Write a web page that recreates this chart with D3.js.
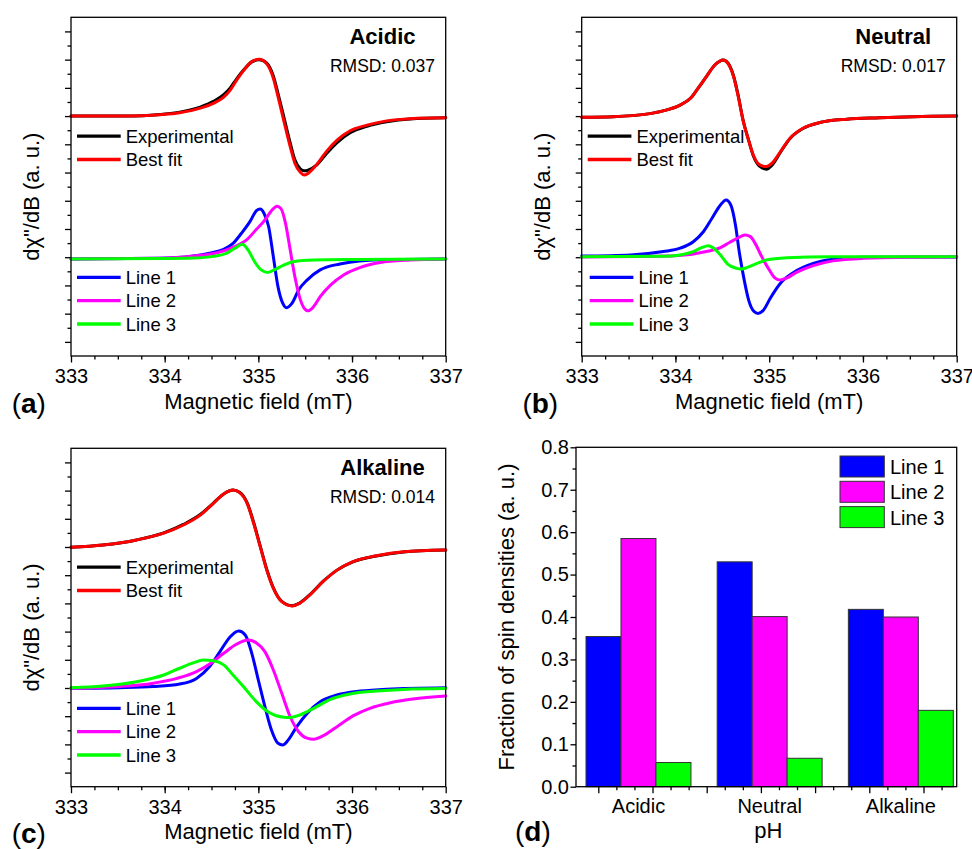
<!DOCTYPE html>
<html>
<head>
<meta charset="utf-8">
<script src="https://cdn.jsdelivr.net/npm/d3@7"></script>
<style>
  body { margin: 0; background: #fff; }
  svg text { font-family: "Liberation Sans", Arial, sans-serif; fill: #000; }
</style>
</head>
<body>
<svg id="fig" width="972" height="849"></svg>
<script>
// ---- data ----
var fieldTicks = [333, 334, 335, 336, 337];

// (a) acidic : [field mT, dchi/dB a.u.]
var acidicExp = [[333.0,0.0],[333.59,0.0],[333.95,0.06],[334.16,0.14],[334.38,0.32],[334.52,0.52],[334.63,0.76],[334.70,1.0],[334.77,1.33],[334.84,1.62],[334.93,1.92],[335.01,2.0],[335.09,1.88],[335.16,1.42],[335.21,0.80],[335.27,0.0],[335.34,-0.95],[335.39,-1.55],[335.45,-1.88],[335.49,-1.94],[335.53,-1.92],[335.62,-1.74],[335.73,-1.32],[335.84,-0.94],[335.98,-0.59],[336.16,-0.36],[336.37,-0.2],[336.62,-0.1],[337.0,-0.06]];
var acidicFit = [[333.0,0.0],[333.59,0.0],[333.95,0.05],[334.16,0.12],[334.38,0.28],[334.52,0.45],[334.63,0.67],[334.70,0.92],[334.77,1.28],[334.84,1.6],[334.93,1.93],[335.01,2.01],[335.09,1.85],[335.16,1.34],[335.21,0.69],[335.27,-0.14],[335.34,-1.08],[335.39,-1.67],[335.45,-2.0],[335.49,-2.09],[335.53,-2.03],[335.62,-1.73],[335.73,-1.24],[335.84,-0.85],[335.98,-0.52],[336.16,-0.32],[336.37,-0.17],[336.62,-0.09],[337.0,-0.06]];
var acidicLine1 = [[333.0,-5.06],[333.95,-5.04],[334.31,-4.96],[334.48,-4.86],[334.63,-4.72],[334.73,-4.51],[334.82,-4.15],[334.91,-3.74],[334.98,-3.35],[335.02,-3.29],[335.06,-3.44],[335.11,-3.92],[335.16,-4.98],[335.21,-6.05],[335.26,-6.63],[335.30,-6.79],[335.36,-6.63],[335.43,-6.16],[335.52,-5.81],[335.66,-5.45],[335.87,-5.24],[336.08,-5.13],[336.44,-5.08],[337.0,-5.06]];
var acidicLine2 = [[333.0,-5.06],[333.95,-5.04],[334.31,-4.96],[334.56,-4.84],[334.73,-4.65],[334.88,-4.37],[334.98,-4.01],[335.07,-3.68],[335.14,-3.35],[335.20,-3.19],[335.24,-3.27],[335.29,-3.80],[335.34,-4.74],[335.39,-5.69],[335.45,-6.52],[335.50,-6.85],[335.53,-6.90],[335.59,-6.75],[335.66,-6.40],[335.77,-5.99],[335.91,-5.63],[336.09,-5.36],[336.30,-5.19],[336.62,-5.10],[337.0,-5.06]];
var acidicLine3 = [[333.0,-5.06],[333.95,-5.05],[334.31,-5.03],[334.52,-4.97],[334.66,-4.86],[334.75,-4.68],[334.83,-4.54],[334.89,-4.74],[334.96,-5.16],[335.03,-5.45],[335.10,-5.54],[335.18,-5.43],[335.27,-5.28],[335.37,-5.16],[335.59,-5.10],[336.09,-5.08],[337.0,-5.06]];

// (b) neutral
var neutralExp = [[333.0,-0.04],[333.34,-0.02],[333.69,0.07],[333.91,0.22],[334.05,0.39],[334.16,0.63],[334.24,0.98],[334.33,1.40],[334.42,1.81],[334.51,1.99],[334.56,1.88],[334.62,1.42],[334.67,0.72],[334.72,-0.12],[334.78,-0.85],[334.83,-1.40],[334.90,-1.78],[334.97,-1.88],[335.03,-1.74],[335.12,-1.28],[335.22,-0.80],[335.36,-0.44],[335.54,-0.23],[335.83,-0.11],[336.18,-0.06],[336.54,-0.02],[337.0,0.0]];
var neutralFit = [[333.0,-0.04],[333.34,-0.02],[333.69,0.07],[333.91,0.22],[334.05,0.39],[334.16,0.63],[334.24,0.98],[334.33,1.40],[334.42,1.81],[334.51,1.99],[334.56,1.87],[334.62,1.40],[334.67,0.69],[334.72,-0.14],[334.78,-0.85],[334.83,-1.38],[334.90,-1.73],[334.97,-1.79],[335.03,-1.67],[335.12,-1.26],[335.22,-0.79],[335.36,-0.43],[335.54,-0.23],[335.83,-0.11],[336.18,-0.06],[336.54,-0.02],[337.0,0.0]];
var neutralLine1 = [[333.0,-4.96],[333.52,-4.92],[333.87,-4.80],[334.05,-4.68],[334.19,-4.45],[334.30,-4.09],[334.39,-3.62],[334.48,-3.15],[334.54,-2.97],[334.59,-3.15],[334.64,-3.86],[334.68,-4.80],[334.73,-5.75],[334.78,-6.51],[334.84,-6.93],[334.88,-6.99],[334.94,-6.87],[335.01,-6.46],[335.12,-5.92],[335.26,-5.54],[335.47,-5.22],[335.68,-5.07],[336.0,-5.0],[336.54,-4.99],[337.0,-4.99]];
var neutralLine2 = [[333.0,-4.99],[333.87,-4.96],[334.16,-4.90],[334.33,-4.80],[334.48,-4.66],[334.58,-4.47],[334.67,-4.31],[334.74,-4.21],[334.80,-4.27],[334.85,-4.51],[334.92,-4.98],[334.99,-5.39],[335.06,-5.73],[335.12,-5.81],[335.19,-5.73],[335.29,-5.54],[335.47,-5.30],[335.68,-5.13],[336.0,-5.04],[336.54,-5.0],[337.0,-4.99]];
var neutralLine3 = [[333.0,-4.98],[333.87,-4.97],[334.05,-4.92],[334.19,-4.80],[334.28,-4.66],[334.35,-4.59],[334.40,-4.66],[334.48,-4.92],[334.56,-5.25],[334.65,-5.39],[334.69,-5.42],[334.76,-5.37],[334.87,-5.22],[334.97,-5.10],[335.19,-5.02],[335.65,-4.98],[337.0,-4.98]];

// (c) alkaline
var alkalineExp = [[333.0,-0.01],[333.34,0.07],[333.70,0.25],[333.99,0.50],[334.20,0.80],[334.38,1.15],[334.52,1.56],[334.63,1.88],[334.73,2.02],[334.80,1.94],[334.88,1.57],[334.95,0.87],[335.02,0.03],[335.09,-0.80],[335.16,-1.45],[335.25,-1.93],[335.36,-2.08],[335.44,-1.99],[335.55,-1.69],[335.69,-1.22],[335.84,-0.82],[336.01,-0.53],[336.26,-0.32],[336.55,-0.18],[337.0,-0.11]];
var alkalineFit = [[333.0,-0.01],[333.34,0.07],[333.70,0.25],[333.99,0.49],[334.20,0.78],[334.38,1.13],[334.52,1.55],[334.63,1.88],[334.73,2.02],[334.80,1.93],[334.88,1.55],[334.95,0.84],[335.02,0.01],[335.09,-0.82],[335.16,-1.46],[335.25,-1.94],[335.36,-2.09],[335.44,-2.0],[335.55,-1.70],[335.69,-1.23],[335.84,-0.82],[336.01,-0.52],[336.26,-0.31],[336.55,-0.17],[337.0,-0.11]];
var alkalineLine1 = [[333.0,-5.01],[333.52,-4.99],[333.88,-4.95],[334.16,-4.86],[334.34,-4.66],[334.48,-4.24],[334.59,-3.71],[334.70,-3.18],[334.79,-2.98],[334.86,-3.12],[334.93,-3.77],[335.0,-4.72],[335.07,-5.66],[335.14,-6.49],[335.21,-6.96],[335.26,-7.02],[335.32,-6.84],[335.41,-6.37],[335.52,-5.90],[335.66,-5.49],[335.84,-5.25],[336.09,-5.11],[336.37,-5.04],[337.0,-4.99]];
var alkalineLine2 = [[333.0,-5.01],[333.52,-4.95],[333.88,-4.83],[334.13,-4.66],[334.34,-4.42],[334.48,-4.15],[334.63,-3.77],[334.77,-3.44],[334.89,-3.30],[334.98,-3.40],[335.07,-3.71],[335.16,-4.36],[335.25,-5.19],[335.34,-6.02],[335.43,-6.55],[335.52,-6.78],[335.59,-6.82],[335.69,-6.70],[335.84,-6.37],[336.01,-5.99],[336.19,-5.72],[336.41,-5.52],[336.65,-5.39],[337.0,-5.28]];
var alkalineLine3 = [[333.0,-4.99],[333.34,-4.93],[333.70,-4.78],[333.99,-4.54],[334.16,-4.30],[334.31,-4.10],[334.41,-4.01],[334.52,-4.03],[334.63,-4.18],[334.73,-4.54],[334.84,-4.95],[334.98,-5.49],[335.12,-5.88],[335.27,-6.04],[335.34,-6.05],[335.44,-5.96],[335.59,-5.72],[335.77,-5.40],[335.98,-5.21],[336.26,-5.11],[336.55,-5.05],[337.0,-5.02]];

// (d) fraction of spin densities
var phGroups = ["Acidic", "Neutral", "Alkaline"];
var lineNames = ["Line 1", "Line 2", "Line 3"];
var line1Frac = [0.354, 0.530, 0.418];
var line2Frac = [0.585, 0.401, 0.400];
var line3Frac = [0.057, 0.067, 0.180];
var fracTicks = [0.0, 0.1, 0.2, 0.3, 0.4, 0.5, 0.6, 0.7, 0.8];

// ---- drawing ----
var svg = d3.select("#fig");
var FONT = '"Liberation Sans", Arial, sans-serif';
var lineColors = ["#0000ff", "#ff00ff", "#00ff00"];

function styleAxis(sel, size) {
  sel.attr("font-family", FONT).attr("font-size", size);
  sel.selectAll(".domain").remove();
  sel.selectAll(".tick line").attr("stroke", "#000").attr("stroke-width", 1.3);
  sel.selectAll(".tick text").attr("fill", "#000");
}

function panelLetter(x, y, letter) {
  var t = svg.append("text").attr("x", x).attr("y", y).attr("font-size", 28);
  t.append("tspan").text("(");
  t.append("tspan").attr("font-weight", "bold").text(letter);
  t.append("tspan").text(")");
}

function spectrum(box, title, rmsd, letter, series) {
  var x = d3.scaleLinear().domain([333, 337]).range([box.left, box.right]);
  var y = d3.scaleLinear().domain([-8.5, 3.5]).range([box.bottom, box.top]);
  var g = svg.append("g");

  // x ticks
  g.append("g").attr("transform", "translate(0," + box.bottom + ")")
    .call(d3.axisBottom(x).tickValues(d3.range(333.25, 337, 0.25)).tickSize(3.5).tickSizeOuter(0).tickFormat(""))
    .call(styleAxis, 20);
  g.append("g").attr("transform", "translate(0," + box.bottom + ")")
    .call(d3.axisBottom(x).tickValues(fieldTicks).tickSize(6.5).tickSizeOuter(0).tickPadding(6.5).tickFormat(d3.format("d")))
    .call(styleAxis, 20);

  // y ticks, no labels (arbitrary units)
  g.append("g").attr("transform", "translate(" + box.left + ",0)")
    .call(d3.axisLeft(y).tickValues(d3.range(-8, 4, 1)).tickSize(6).tickFormat(""))
    .call(styleAxis, 20);
  g.append("g").attr("transform", "translate(" + box.left + ",0)")
    .call(d3.axisLeft(y).tickValues(d3.range(-7.5, 3.5, 1)).tickSize(3.5).tickFormat(""))
    .call(styleAxis, 20);

  var line = d3.line().x(function(d) { return x(d[0]); }).y(function(d) { return y(d[1]); })
    .curve(d3.curveMonotoneX);

  series.forEach(function(s) {
    g.append("path").datum(s.data).attr("d", line)
      .attr("fill", "none").attr("stroke", s.color).attr("stroke-width", 3)
      .attr("stroke-linejoin", "round").attr("stroke-linecap", "round");
  });

  g.append("rect").attr("x", box.left).attr("y", box.top)
    .attr("width", box.right - box.left).attr("height", box.bottom - box.top)
    .attr("fill", "none").attr("stroke", "#000").attr("stroke-width", 1.3);

  // title + RMSD
  var cx = box.left + 311.5;
  g.append("text").attr("x", cx).attr("y", box.top + 26.8).attr("text-anchor", "middle")
    .attr("font-size", 22).attr("font-weight", "bold").text(title);
  g.append("text").attr("x", cx).attr("y", box.top + 54.4).attr("text-anchor", "middle")
    .attr("font-size", 17.5).text("RMSD: " + rmsd);

  // legends
  var legY = [118.8, 142.2, 260, 283.4, 306.7];
  series.forEach(function(s, i) {
    var ly = box.top + legY[i];
    var lx = box.left + 6 + (i > 1 ? box.legShift : 0);
    g.append("line").attr("x1", lx).attr("x2", lx + 43.7).attr("y1", ly).attr("y2", ly)
      .attr("stroke", s.color).attr("stroke-width", 3.3);
    g.append("text").attr("x", lx + 48.7).attr("y", ly + 6.6).attr("font-size", 18.5).text(s.name);
  });

  // axis titles
  g.append("text").attr("x", (box.left + box.right) / 2).attr("y", box.bottom + 52.5)
    .attr("text-anchor", "middle").attr("font-size", 22).text("Magnetic field (mT)");
  g.append("text").attr("transform", "translate(" + (box.left - 32) + "," + ((box.top + box.bottom) / 2 + 10) + ") rotate(-90)")
    .attr("text-anchor", "middle").attr("font-size", 22).text("d\u03c7\"/dB (a. u.)");

  panelLetter(box.left - 59.3, box.bottom + 56.5, letter);
}

function names(exp, fit, l1, l2, l3) {
  return [
    {name: "Experimental", color: "#000000", data: exp},
    {name: "Best fit", color: "#ff0000", data: fit},
    {name: "Line 1", color: lineColors[0], data: l1},
    {name: "Line 2", color: lineColors[1], data: l2},
    {name: "Line 3", color: lineColors[2], data: l3}
  ];
}

spectrum({left: 71, right: 445.7, top: 17.3, bottom: 356, legShift: 0}, "Acidic", "0.037", "a",
  names(acidicExp, acidicFit, acidicLine1, acidicLine2, acidicLine3));
spectrum({left: 581.7, right: 956.7, top: 17.3, bottom: 356, legShift: 2}, "Neutral", "0.017", "b",
  names(neutralExp, neutralFit, neutralLine1, neutralLine2, neutralLine3));
spectrum({left: 71, right: 445.7, top: 448.3, bottom: 786.7, legShift: 0}, "Alkaline", "0.014", "c",
  names(alkalineExp, alkalineFit, alkalineLine1, alkalineLine2, alkalineLine3));

// ---- (d) bar chart ----
(function() {
  var box = {left: 576, right: 956.7, top: 447.3, bottom: 786.7};
  var g = svg.append("g");
  var y = d3.scaleLinear().domain([0, 0.8]).range([box.bottom, box.top]);
  var xGroup = d3.scaleBand().domain(phGroups).range([box.left + 10, box.right - 3.4]).paddingInner(0.2);
  var xSub = d3.scaleBand().domain(lineNames).range([0, xGroup.bandwidth()]);
  var fracs = [line1Frac, line2Frac, line3Frac];

  // y axis
  g.append("g").attr("transform", "translate(" + box.left + ",0)")
    .call(d3.axisLeft(y).tickValues(d3.range(0.05, 0.8, 0.1)).tickSize(3.5).tickFormat(""))
    .call(styleAxis, 20);
  g.append("g").attr("transform", "translate(" + box.left + ",0)")
    .call(d3.axisLeft(y).tickValues(fracTicks).tickSize(5.5).tickPadding(1.5).tickFormat(d3.format(".1f")))
    .call(styleAxis, 20);

  // x axis ticks (Origin numeric axis behind the category labels)
  var xt = d3.scaleLinear().domain([0, 1]).range([box.left + 22.3, box.left + 76.5]);
  g.append("g").attr("transform", "translate(0," + box.bottom + ")")
    .call(d3.axisBottom(xt).tickValues(d3.range(0, 6.5, 1 / 3).filter(function(v) { return Math.abs(v - Math.round(v)) > 0.01; }))
      .tickSize(3.5).tickSizeOuter(0).tickFormat(""))
    .call(styleAxis, 20);
  g.append("g").attr("transform", "translate(0," + box.bottom + ")")
    .call(d3.axisBottom(xt).tickValues(d3.range(0, 7, 1)).tickSize(6.5).tickSizeOuter(0).tickFormat(""))
    .call(styleAxis, 20);
  g.append("g").attr("transform", "translate(0," + box.bottom + ")")
    .call(d3.axisBottom(xGroup).tickSize(0).tickPadding(12.5))
    .call(styleAxis, 20);

  // bars
  phGroups.forEach(function(grp, gi) {
    g.selectAll(null).data(lineNames).enter().append("rect")
      .attr("x", function(d) { return xGroup(grp) + xSub(d); })
      .attr("width", xSub.bandwidth())
      .attr("y", function(d, k) { return y(fracs[k][gi]); })
      .attr("height", function(d, k) { return box.bottom - y(fracs[k][gi]); })
      .attr("fill", function(d, k) { return lineColors[k]; })
      .attr("stroke", "#333").attr("stroke-width", 1);
  });

  g.append("rect").attr("x", box.left).attr("y", box.top)
    .attr("width", box.right - box.left).attr("height", box.bottom - box.top)
    .attr("fill", "none").attr("stroke", "#000").attr("stroke-width", 1.3);

  // legend
  lineNames.forEach(function(n, k) {
    var ty = box.top + 8.7 + k * 25.3;
    g.append("rect").attr("x", box.right - 116.7).attr("y", ty).attr("width", 44.3).attr("height", 21)
      .attr("fill", lineColors[k]).attr("stroke", "#333").attr("stroke-width", 1);
    g.append("text").attr("x", box.right - 66.7).attr("y", ty + 18).attr("font-size", 20).text(n);
  });

  g.append("text").attr("x", (box.left + box.right) / 2 + 2).attr("y", box.bottom + 51.6)
    .attr("text-anchor", "middle").attr("font-size", 22).text("pH");
  g.append("text").attr("transform", "translate(" + (box.left - 62) + "," + ((box.top + box.bottom) / 2) + ") rotate(-90)")
    .attr("text-anchor", "middle").attr("font-size", 22).text("Fraction of spin densities (a. u.)");

  panelLetter(515, box.bottom + 54.5, "d");
})();
</script>
</body>
</html>
